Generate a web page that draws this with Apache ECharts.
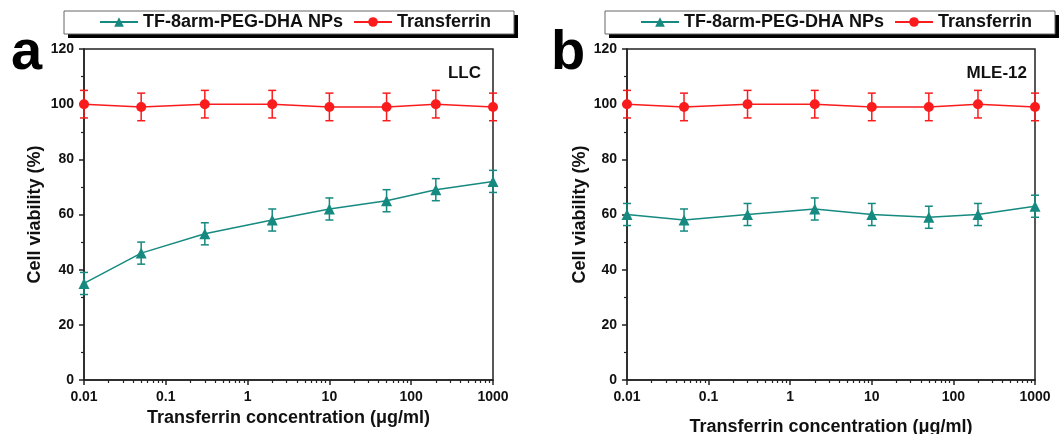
<!DOCTYPE html>
<html>
<head>
<meta charset="utf-8">
<script src="https://cdn.jsdelivr.net/npm/echarts@6/dist/echarts.min.js"></script>
<style>html,body{margin:0;padding:0;background:#fff}#c{width:1061px;height:434px}</style>
</head>
<body>
<div id="c"></div>
<script>
const conc = [0.01, 0.05, 0.3, 2, 10, 50, 200, 1000];
const llcNP = [35, 46, 53, 58, 62, 65, 69, 72];
const llcNPErr = [4, 4, 4, 4, 4, 4, 4, 4];
const llcTf = [100, 99, 100, 100, 99, 99, 100, 99];
const llcTfErr = [5, 5, 5, 5, 5, 5, 5, 5];
const mleNP = [60, 58, 60, 62, 60, 59, 60, 63];
const mleNPErr = [4, 4, 4, 4, 4, 4, 4, 4];
const mleTf = [100, 99, 100, 100, 99, 99, 100, 99];
const mleTfErr = [5, 5, 5, 5, 5, 5, 5, 5];
const xMajor = [0.01, 0.1, 1, 10, 100, 1000];
const xMinor = [0.02,0.03,0.04,0.05,0.06,0.07,0.08,0.09,0.2,0.3,0.4,0.5,0.6,0.7,0.8,0.9,2,3,4,5,6,7,8,9,20,30,40,50,60,70,80,90,200,300,400,500,600,700,800,900];
const nameNP = 'TF-8arm-PEG-DHA NPs';
const nameTf = 'Transferrin';
const panelLabels = ['a', 'b'];
const cellLabels = ['LLC', 'MLE-12'];
const xTitle = 'Transferrin concentration (μg/ml)';
const yTitle = 'Cell viability (%)';

const teal = '#168a80';
const red = '#fa1c1c';
const axisColor = '#222';
const FF = '"Liberation Sans", Arial, sans-serif';

const chart = echarts.init(document.getElementById('c'));

const grids = [
  {left: 84, top: 49, width: 409, height: 331},
  {left: 627, top: 49, width: 408, height: 331}
];

function xAxes(gi, nameGap) {
  return [{
    type: 'log', logBase: 10, gridIndex: gi, min: 0.01, max: 1000,
    name: xTitle, nameLocation: 'middle', nameGap: nameGap,
    nameTextStyle: {fontFamily: FF, fontWeight: 'bold', fontSize: 18, color: '#111'},
    axisLine: {show: true, lineStyle: {color: axisColor, width: 1.5}},
    axisTick: {show: true, inside: false, length: 5, lineStyle: {color: axisColor, width: 1.5}, customValues: xMajor},
    axisLabel: {fontFamily: FF, fontWeight: 'bold', fontSize: 14, color: '#111', margin: 10, customValues: xMajor,
      showMinLabel: true, showMaxLabel: true, formatter: v => String(+Number(v).toPrecision(6))},
    splitLine: {show: false}
  }, {
    type: 'log', logBase: 10, gridIndex: gi, min: 0.01, max: 1000, position: 'bottom',
    axisLine: {show: false},
    axisTick: {show: true, length: 3, lineStyle: {color: axisColor, width: 1.2}, customValues: xMinor},
    axisLabel: {show: false},
    splitLine: {show: false}
  }];
}

function yAxis(gi, nameGap) {
  return {
    type: 'value', gridIndex: gi, min: 0, max: 120, interval: 20,
    name: yTitle, nameLocation: 'middle', nameGap: nameGap,
    nameTextStyle: {fontFamily: FF, fontWeight: 'bold', fontSize: 18, color: '#111'},
    axisLine: {show: true, lineStyle: {color: axisColor, width: 1.5}},
    axisTick: {show: true, length: 5, lineStyle: {color: axisColor, width: 1.5}},
    minorTick: {show: true, splitNumber: 2, length: 3, lineStyle: {color: axisColor, width: 1.2}},
    axisLabel: {fontFamily: FF, fontWeight: 'bold', fontSize: 14, color: '#111', margin: 10},
    splitLine: {show: false}
  };
}

function lineSeries(name, xi, yi, vals, color, symbol, size) {
  return {
    type: 'line', name: name, xAxisIndex: xi, yAxisIndex: yi,
    data: conc.map((c, i) => [c, vals[i]]),
    symbol: symbol, symbolSize: size, clip: false,
    lineStyle: {color: color, width: 1.5},
    itemStyle: {color: color},
    z: 3
  };
}

function errSeries(name, xi, yi, vals, errs, color) {
  return {
    type: 'custom', name: name, xAxisIndex: xi, yAxisIndex: yi,
    data: conc.map((c, i) => [c, vals[i] - errs[i], vals[i] + errs[i]]),
    clip: false, z: 2,
    itemStyle: {color: color},
    renderItem: function (params, api) {
      const lo = api.coord([api.value(0), api.value(1)]);
      const hi = api.coord([api.value(0), api.value(2)]);
      const hw = 4;
      const st = {stroke: color, lineWidth: 1.5, fill: null};
      return {type: 'group', children: [
        {type: 'line', shape: {x1: lo[0], y1: lo[1], x2: hi[0], y2: hi[1]}, style: st},
        {type: 'line', shape: {x1: lo[0] - hw, y1: lo[1], x2: lo[0] + hw, y2: lo[1]}, style: st},
        {type: 'line', shape: {x1: hi[0] - hw, y1: hi[1], x2: hi[0] + hw, y2: hi[1]}, style: st}
      ]};
    }
  };
}

function legend(left) {
  return {
    data: [nameNP, nameTf],
    left: left, top: 13,
    orient: 'horizontal',
    itemWidth: 38, itemHeight: 12, itemGap: 10,
    padding: 0,
    textStyle: {fontFamily: FF, fontWeight: 'bold', fontSize: 18, color: '#111'},
    selectedMode: false
  };
}

function legendBox(x, w) {
  return [
    {type: 'rect', z: 0, shape: {x: x + 4, y: 15, width: w, height: 23}, style: {fill: '#000'}},
    {type: 'rect', z: 1, shape: {x: x, y: 11, width: w, height: 23}, style: {fill: '#fff', stroke: '#666', lineWidth: 1}}
  ];
}

const option = {
  backgroundColor: '#fff',
  animation: false,
  legend: [legend(99), legend(640)],
  grid: grids.map(g => Object.assign({show: true, borderColor: axisColor, borderWidth: 1.5, backgroundColor: 'transparent', outerBoundsMode: 'none', containLabel: false}, g)),
  xAxis: [...xAxes(0, 29), ...xAxes(1, 38)],
  yAxis: [yAxis(0, 40), yAxis(1, 38)],
  series: [
    lineSeries(nameNP, 0, 0, llcNP, teal, 'triangle', 11),
    lineSeries(nameTf, 0, 0, llcTf, red, 'circle', 10),
    lineSeries(nameNP, 2, 1, mleNP, teal, 'triangle', 11),
    lineSeries(nameTf, 2, 1, mleTf, red, 'circle', 10),
    errSeries(nameTf, 0, 0, llcTf, llcTfErr, red),
    errSeries(nameNP, 0, 0, llcNP, llcNPErr, teal),
    errSeries(nameTf, 2, 1, mleTf, mleTfErr, red),
    errSeries(nameNP, 2, 1, mleNP, mleNPErr, teal)
  ],
  graphic: [
    ...legendBox(64, 450),
    ...legendBox(605, 450),
    {type: 'text', left: 11, top: 26, style: {text: panelLabels[0], font: 'bold 56px ' + FF, fill: '#000'}},
    {type: 'text', left: 551, top: 26, style: {text: panelLabels[1], font: 'bold 56px ' + FF, fill: '#000'}},
    {type: 'text', right: 1061 - 481, top: 65, style: {text: cellLabels[0], font: 'bold 17px ' + FF, fill: '#111'}},
    {type: 'text', right: 1061 - 1027, top: 65, style: {text: cellLabels[1], font: 'bold 17px ' + FF, fill: '#111'}}
  ]
};
chart.setOption(option);
</script>
</body>
</html>
